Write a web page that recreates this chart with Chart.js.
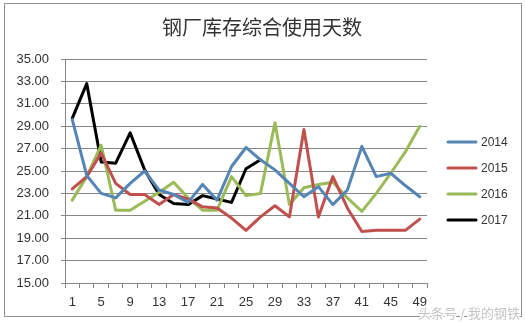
<!DOCTYPE html>
<html>
<head>
<meta charset="utf-8">
<script src="https://cdn.jsdelivr.net/npm/chart.js@4"></script>
<style>
html, body { margin: 0; padding: 0; background: #fff; }
#wrap { position: relative; width: 526px; height: 323px; }
</style>
</head>
<body>
<div id="wrap"><canvas id="stockChart" width="526" height="323"></canvas></div>
<script>
// week numbers (every other week is plotted)
const weeks = [1, 3, 5, 7, 9, 11, 13, 15, 17, 19, 21, 23, 25, 27, 29, 31, 33, 35, 37, 39, 41, 43, 45, 47, 49];
const yTicks = [15, 17, 19, 21, 23, 25, 27, 29, 31, 33, 35];
const seriesNames = ['2014', '2015', '2016', '2017'];
const chartTitle = '钢厂库存综合使用天数';

const days2014 = [29.6, 24.6, 23.0, 22.6, 23.9, 25.0, 23.3, 22.9, 22.2, 23.8, 22.4, 25.4, 27.1, 26.0, 25.1, 23.9, 22.7, 23.6, 22.0, 23.3, 27.2, 24.5, 24.8, 23.7, 22.7];
const days2015 = [23.4, 24.5, 26.6, 23.9, 22.9, 22.9, 22.0, 22.9, 22.5, 21.8, 21.7, 20.8, 19.7, 20.9, 21.9, 20.9, 28.7, 20.9, 24.5, 21.7, 19.6, 19.7, 19.7, 19.7, 20.7];
const days2016 = [22.4, 24.5, 27.3, 21.5, 21.5, 22.3, 23.1, 24.0, 22.6, 21.5, 21.5, 24.5, 22.8, 23.0, 29.3, 22.0, 23.5, 23.8, 24.0, 22.6, 21.4, 23.0, 24.8, 26.7, 29.0];
const days2017 = [29.7, 32.8, 25.8, 25.7, 28.4, 25.1, 22.9, 22.1, 22.0, 22.8, 22.5, 22.2, 25.2, 26.0];

const COLORS = ['#5585B5', '#C0504D', '#9BBB59', '#000000'];
const GRID = '#868686';
const TEXT = '#333333';

function makeLine(label, data, color) {
    return {
        label: label,
        data: data,
        borderColor: color,
        backgroundColor: color,
        borderWidth: 3,
        borderJoinStyle: 'round',
        borderCapStyle: 'round',
        pointRadius: 0,
        tension: 0,
        fill: false
    };
}

// frame, title, legend on the right and the watermark
const decorations = {
    id: 'decorations',
    afterDraw(chart) {
        const ctx = chart.ctx;
        ctx.save();
        ctx.strokeStyle = '#8f8f8f';
        ctx.lineWidth = 1;
        ctx.strokeRect(4.5, 3.5, 517, 313);

        ctx.fillStyle = TEXT;
        ctx.font = '20px "Noto Sans CJK SC"';
        ctx.textAlign = 'center';
        ctx.textBaseline = 'middle';
        ctx.fillText(chartTitle, 262, 27);

        chart.data.datasets.forEach((ds, i) => {
            const y = 142 + i * 26;
            ctx.strokeStyle = ds.borderColor;
            ctx.lineWidth = 3;
            ctx.lineCap = 'round';
            ctx.beginPath();
            ctx.moveTo(448, y);
            ctx.lineTo(476, y);
            ctx.stroke();
            ctx.fillStyle = TEXT;
            ctx.font = '12px "Liberation Sans"';
            ctx.textBaseline = 'middle';
            ctx.textAlign = 'left';
            ctx.fillText(ds.label, 481, y + 1);
        });

        ctx.font = '13px "Noto Sans CJK SC"';
        ctx.textAlign = 'right';
        ctx.textBaseline = 'middle';
        ctx.lineWidth = 3;
        ctx.strokeStyle = '#ffffff';
        ctx.strokeText('头条号 / 我的钢铁', 520, 313);
        ctx.fillStyle = '#c4c4c4';
        ctx.fillText('头条号 / 我的钢铁', 520, 313);
        ctx.restore();
    }
};

const ctx = document.getElementById('stockChart').getContext('2d');
new Chart(ctx, {
    type: 'line',
    data: {
        labels: weeks,
        datasets: [
            makeLine(seriesNames[0], days2014, COLORS[0]),
            makeLine(seriesNames[1], days2015, COLORS[1]),
            makeLine(seriesNames[2], days2016, COLORS[2]),
            makeLine(seriesNames[3], days2017, COLORS[3])
        ]
    },
    options: {
        responsive: false,
        animation: false,
        layout: {
            padding: { left: 16, right: 99, top: 59, bottom: 12 }
        },
        plugins: {
            legend: { display: false },
            tooltip: { enabled: false }
        },
        scales: {
            x: {
                offset: true,
                afterFit: function(scale) {
                    scale.height = 28;
                },
                grid: {
                    offset: true,
                    drawOnChartArea: false,
                    drawTicks: true,
                    tickLength: 5,
                    color: GRID
                },
                border: { display: true, color: GRID },
                ticks: {
                    autoSkip: false,
                    maxRotation: 0,
                    padding: 7,
                    color: TEXT,
                    font: { family: '"Liberation Sans"', size: 13 },
                    callback: function(value, index) {
                        return index % 2 === 0 ? this.getLabelForValue(value) : '';
                    }
                }
            },
            y: {
                min: yTicks[0],
                max: yTicks[yTicks.length - 1],
                afterFit: function(scale) {
                    scale.width = 49;
                },
                afterBuildTicks: function(scale) {
                    scale.ticks = yTicks.map(v => ({ value: v }));
                },
                grid: {
                    color: GRID,
                    tickLength: 4
                },
                border: { display: true, color: GRID },
                ticks: {
                    padding: 12,
                    color: TEXT,
                    font: { family: '"Liberation Sans"', size: 13 },
                    callback: function(value) {
                        return value.toFixed(2);
                    }
                }
            }
        }
    },
    plugins: [decorations]
});
</script>
</body>
</html>
